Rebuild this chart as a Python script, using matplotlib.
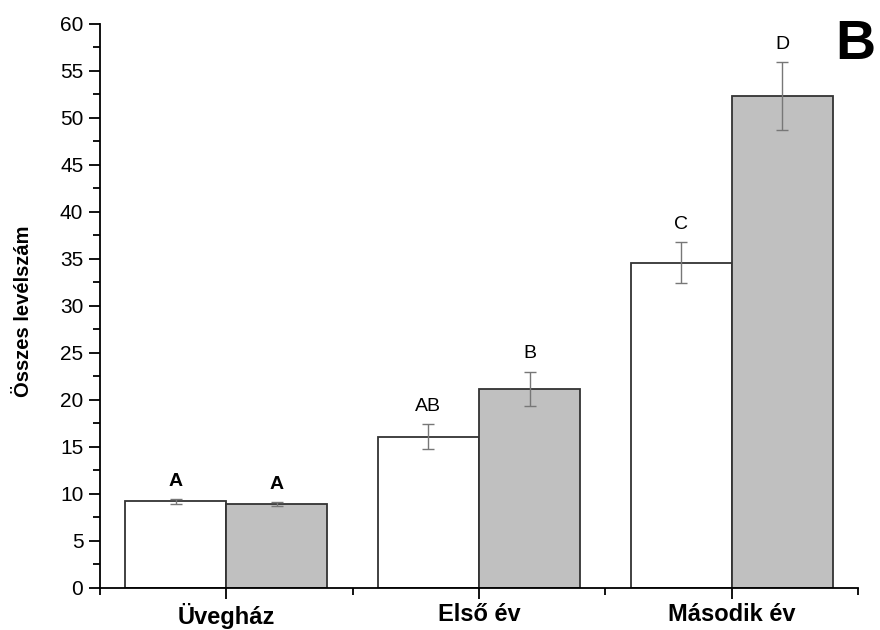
import matplotlib.pyplot as plt
import numpy as np
from matplotlib.ticker import MultipleLocator, FixedLocator

plt.rcParams['font.family'] = ['Liberation Sans', 'DejaVu Sans']

# adatok
categories = ["Üvegház", "Első év", "Második év"]
white_vals = [9.2, 16.1, 34.6]
white_err = [0.25, 1.3, 2.2]
grey_vals = [8.9, 21.2, 52.3]
grey_err = [0.2, 1.8, 3.6]
white_letters = ["A", "AB", "C"]
grey_letters = ["A", "B", "D"]
letter_bold = [True, False, False]

x = np.arange(1, len(categories) + 1)
w = 0.4

fig = plt.figure(figsize=(8.8, 6.3), dpi=100)
ax = fig.add_axes([0.1136, 0.0667, 0.8614, 0.8953])

ax.bar(x - w / 2, white_vals, w, color="white", edgecolor="#333333", linewidth=1.3, zorder=2)
ax.bar(x + w / 2, grey_vals, w, color="#c0c0c0", edgecolor="#333333", linewidth=1.3, zorder=2)
ax.errorbar(x - w / 2, white_vals, yerr=white_err, fmt="none", ecolor="#777777",
            elinewidth=1, capsize=4, capthick=1, zorder=3)
ax.errorbar(x + w / 2, grey_vals, yerr=grey_err, fmt="none", ecolor="#777777",
            elinewidth=1, capsize=4, capthick=1, zorder=3)

for i in range(len(categories)):
    fw = "bold" if letter_bold[i] else "normal"
    ax.text(x[i] - w / 2, white_vals[i] + white_err[i] + 1.0, white_letters[i],
            ha="center", va="bottom", fontsize=14, fontweight=fw)
    ax.text(x[i] + w / 2, grey_vals[i] + grey_err[i] + 1.0, grey_letters[i],
            ha="center", va="bottom", fontsize=14, fontweight=fw)

ax.set_xlim(0.5, 3.5)
ax.set_ylim(0, 60)
ax.set_xticks(x)
ax.set_xticklabels(categories, fontsize=17, fontweight="bold")
ax.xaxis.set_minor_locator(FixedLocator([0.5, 1.5, 2.5, 3.5]))
ax.yaxis.set_major_locator(MultipleLocator(5))
ax.yaxis.set_minor_locator(MultipleLocator(2.5))
ax.tick_params(axis="y", labelsize=15, length=8, width=1.3, direction="out", pad=4)
ax.tick_params(axis="y", which="minor", length=5, width=1.3)
ax.tick_params(axis="x", length=8, width=1.3, direction="out", pad=3)
ax.tick_params(axis="x", which="minor", length=5, width=1.3)
ax.spines["top"].set_visible(False)
ax.spines["right"].set_visible(False)
ax.spines["left"].set_linewidth(1.3)
ax.spines["bottom"].set_linewidth(1.3)
ax.set_ylabel("Összes levélszám", fontsize=14.5, fontweight="bold")
ax.yaxis.set_label_coords(-0.088, 0.49)

fig.text(0.972, 0.929, "B", fontsize=40, fontweight="bold", ha="center", va="center")

fig.savefig("out.png", dpi=100)
